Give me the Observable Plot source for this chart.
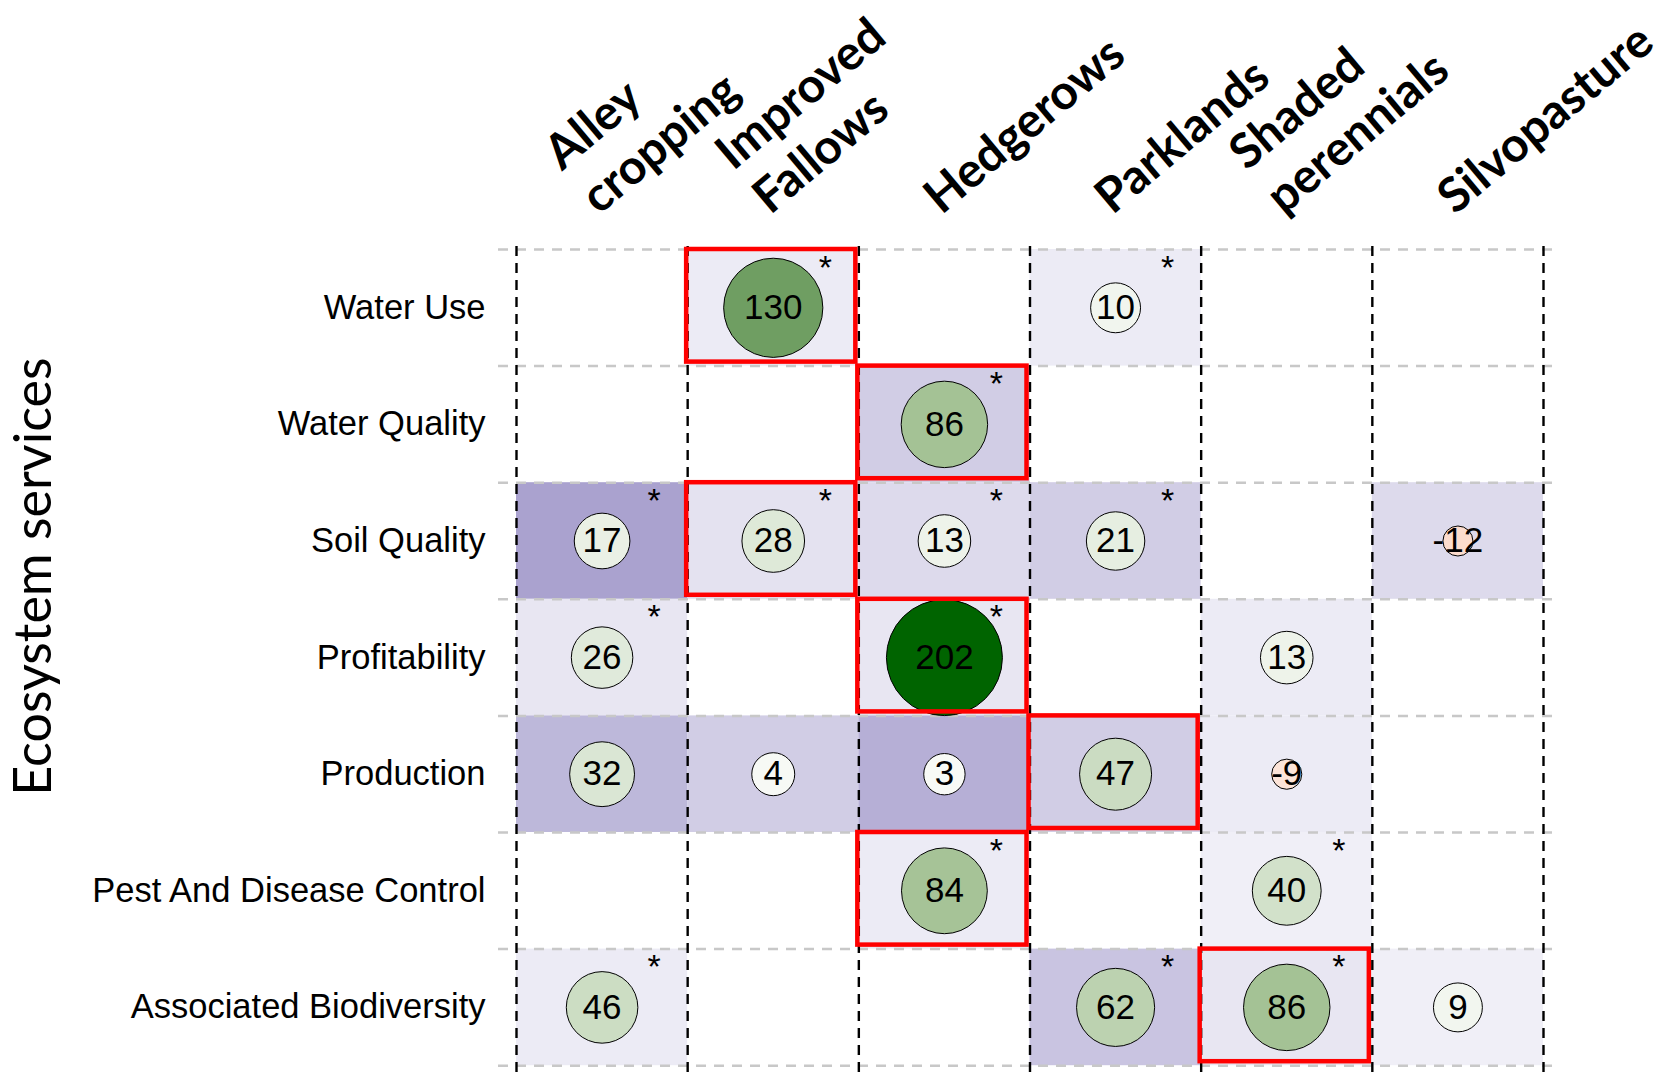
<!DOCTYPE html>
<html>
<head>
<meta charset="utf-8">
<script src="https://cdn.jsdelivr.net/npm/d3@7"></script>
<script src="https://cdn.jsdelivr.net/npm/@observablehq/plot@0.6"></script>
<style>
  html, body { margin: 0; padding: 0; background: #fff; }
  #chart svg { display: block; }
</style>
</head>
<body>
<div id="chart"></div>
<script>
// Ecosystem services (rows) and agroforestry practices (columns)
const services = ["Water Use", "Water Quality", "Soil Quality", "Profitability", "Production", "Pest And Disease Control", "Associated Biodiversity"];
const practices = ["Alley cropping", "Improved Fallows", "Hedgerows", "Parklands", "Shaded perennials", "Silvopasture"];
const practiceLabels = ["Alley\ncropping", "Improved\nFallows", "Hedgerows", "Parklands", "Shaded\nperennials", "Silvopasture"];
const axisTitle = "Ecosystem services";

// effect size (%) per service row and practice column; null = no data
const effect = [
  [null, 130, null, 10, null, null],
  [null, null, 86, null, null, null],
  [17, 28, 13, 21, null, -12],
  [26, null, 202, null, 13, null],
  [32, 4, 3, 47, -9, null],
  [null, null, 84, null, 40, null],
  [46, null, null, 62, 86, 9]
];

// evidence weight (background shade)
const studies = [
  [0, 2, 0, 2, 0, 0],
  [0, 0, 9, 0, 0, 0],
  [19, 4, 6, 9, 0, 6],
  [3, 0, 3, 0, 2, 0],
  [14, 9, 16, 9, 2, 0],
  [0, 0, 2, 0, 1, 0],
  [2, 0, 0, 11, 3, 1]
];

// significance (asterisk)
const significant = [
  [0, 1, 0, 1, 0, 0],
  [0, 0, 1, 0, 0, 0],
  [1, 1, 1, 1, 0, 0],
  [1, 0, 1, 0, 0, 0],
  [0, 0, 0, 0, 0, 0],
  [0, 0, 1, 0, 1, 0],
  [1, 0, 0, 1, 1, 0]
];

const cells = [];
services.forEach((s, j) => {
  const rowMax = d3.max(effect[j]);
  practices.forEach((p, i) => {
    const v = effect[j][i];
    if (v == null) return;
    cells.push({service: s, practice: p, row: j, col: i, value: v,
      n: studies[j][i], sig: significant[j][i] === 1, best: v === rowMax});
  });
});

const effectColor = d3.scaleLinear()
  .domain([-12, 0, 86, 130, 202])
  .range(["#fcdccd", "#fbfcfa", "#a4c295", "#6f9e62", "#006400"])
  .interpolate(d3.interpolateLab);

const cx = d => d.col + 0.5;
const cy = d => d.row + 0.5;

const chart = Plot.plot({
  width: 1662,
  height: 1073,
  marginLeft: 516,
  marginRight: 119,
  marginTop: 249,
  marginBottom: 7.8,
  style: {fontFamily: "'Liberation Sans', Arial, sans-serif", fontSize: "34px", background: "#fff", overflow: "visible"},
  x: {type: "linear", domain: [0, practices.length], axis: null},
  y: {type: "linear", domain: [0, services.length], reverse: true, axis: null},
  r: {type: "sqrt", domain: [-12, 0, 202], range: [15, 15.5, 58]},
  color: {type: "linear", domain: [0, 20], range: ["#f4f3f9", "#a69ecd"]},
  marks: [
    Plot.rect(cells, {x1: "col", x2: d => d.col + 1, y1: "row", y2: d => d.row + 1, fill: "n"}),
    Plot.ruleY(d3.range(services.length + 1), {y: d => d, stroke: "#c8c8c8", strokeWidth: 2.5, strokeDasharray: "10,8", insetLeft: -18, insetRight: -15}),
    Plot.ruleX(d3.range(practices.length + 1), {x: d => d, stroke: "#000", strokeWidth: 2.4, strokeDasharray: "10,7", insetTop: -3, insetBottom: -8}),
    Plot.dot(cells, {x: cx, y: cy, r: "value", fill: d => effectColor(d.value), stroke: "#000", strokeWidth: 1}),
    Plot.text(cells, {x: cx, y: cy, text: d => String(d.value), fontSize: 35, fill: "#000"}),
    Plot.text(cells.filter(d => d.sig), {x: cx, y: cy, text: () => "*", fontSize: 34, dx: 52, dy: -40, fill: "#000"}),
    Plot.rect(cells.filter(d => d.best), {x1: "col", x2: d => d.col + 1, y1: "row", y2: d => d.row + 1, fill: "none", stroke: "#ff0000", strokeWidth: 4.5, insetLeft: -1, insetRight: 3, insetBottom: 4}),
    Plot.text(services, {x: () => 0, y: (d, i) => i + 0.5, text: d => d, textAnchor: "end", dx: -31, fontSize: 34.5, fill: "#000"}),
    Plot.text(practiceLabels, {x: (d, i) => i + 0.5, y: () => 0, text: d => d, rotate: -40, textAnchor: "start", lineAnchor: "bottom", lineHeight: 1.2, fontSize: 48, fontWeight: "bold", fontFamily: "Lato", dx: -3, dy: -34, fill: "#000"}),
    Plot.text([axisTitle], {frameAnchor: "left", text: d => d, rotate: -90, textAnchor: "middle", dx: -482, dy: -81, fontSize: 52, fontFamily: "Lato", fill: "#000"})
  ]
});
document.getElementById("chart").appendChild(chart);
</script>
</body>
</html>
